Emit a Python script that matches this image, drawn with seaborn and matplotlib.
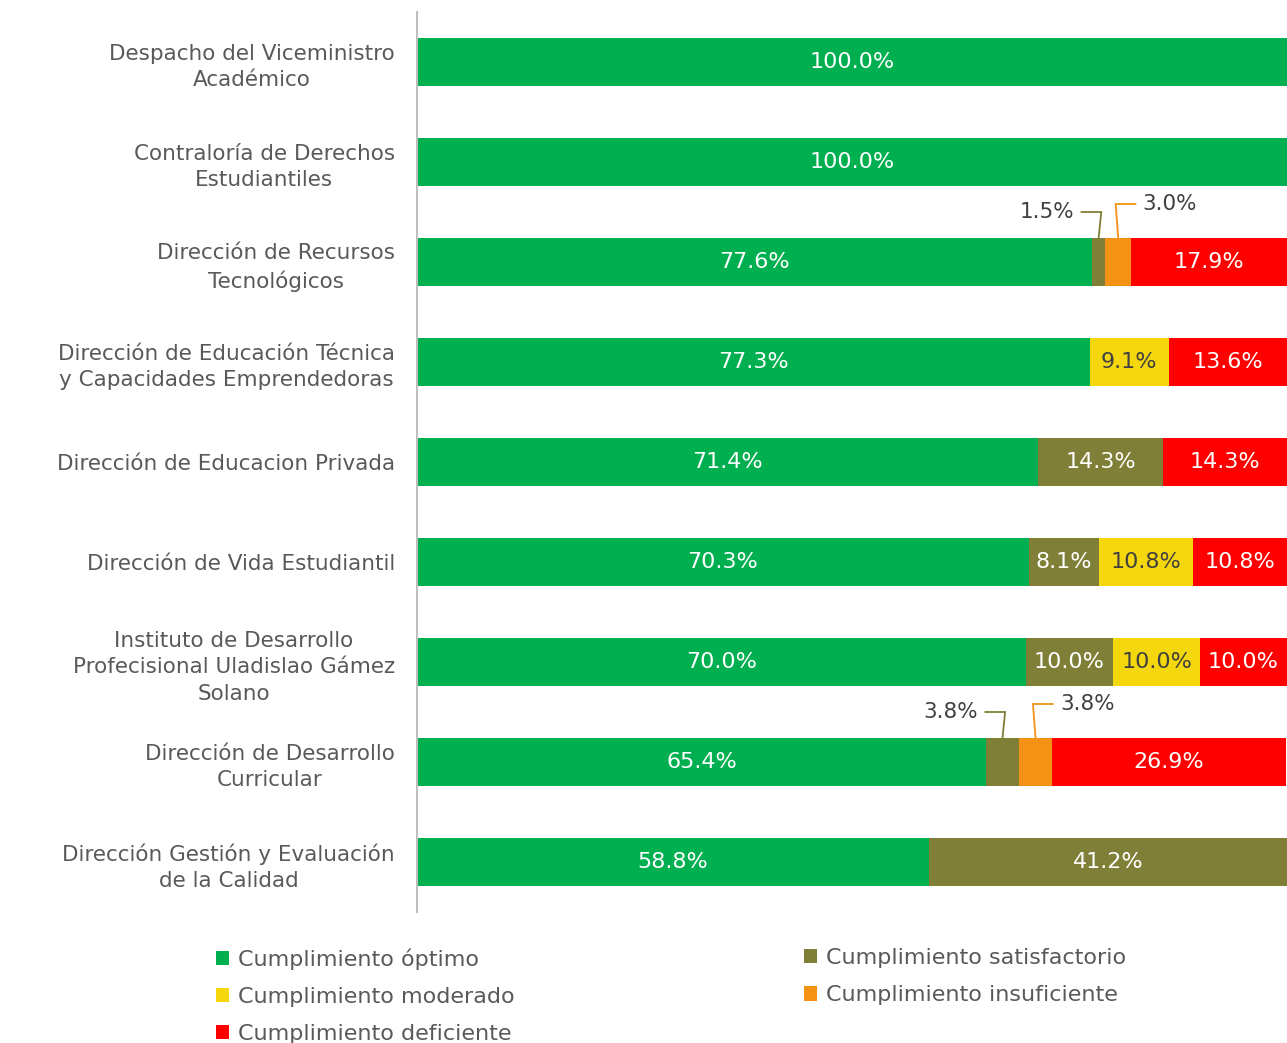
'''
    plot.py

    Description: Stacked horizontal bar chart of compliance levels by
        dependency, drawn with seaborn and saved as out.png.
'''

import pandas as pd
import matplotlib.pyplot as plt
from matplotlib.patches import Patch
import seaborn as sns

################################################################################

categories = [
    'Despacho del Viceministro\nAcadémico',
    'Contraloría de Derechos\nEstudiantiles',
    'Dirección de Recursos\nTecnológicos',
    'Dirección de Educación Técnica\ny Capacidades Emprendedoras',
    'Dirección de Educacion Privada',
    'Dirección de Vida Estudiantil',
    'Instituto de Desarrollo\nProfecisional Uladislao Gámez\nSolano',
    'Dirección de Desarrollo\nCurricular',
    'Dirección Gestión y Evaluación\nde la Calidad',
]

optimo = [100.0, 100.0, 77.6, 77.3, 71.4, 70.3, 70.0, 65.4, 58.8]
satisfactorio = [0.0, 0.0, 1.5, 0.0, 14.3, 8.1, 10.0, 3.8, 41.2]
moderado = [0.0, 0.0, 0.0, 9.1, 0.0, 10.8, 10.0, 0.0, 0.0]
insuficiente = [0.0, 0.0, 3.0, 0.0, 0.0, 0.0, 0.0, 3.8, 0.0]
deficiente = [0.0, 0.0, 17.9, 13.6, 14.3, 10.8, 10.0, 26.9, 0.0]

series_names = [
    'Cumplimiento óptimo',
    'Cumplimiento satisfactorio',
    'Cumplimiento moderado',
    'Cumplimiento insuficiente',
    'Cumplimiento deficiente',
]

################################################################################

colors = ['#00B050', '#7F7F37', '#F5D70E', '#F39214', '#FF0000']
text_on_bar = ['white', 'white', '#404040', 'white', 'white']
label_gray = '#595959'
dark_gray = '#404040'

# small segments get a callout instead of an inner label
callout_side = {1: -1, 3: 1}
callout_rise = {1: 0.5, 3: 0.58}

sns.set_theme(style = 'white')
plt.rcParams['font.family'] = ['DejaVu Sans']

df = pd.DataFrame(
    [optimo, satisfactorio, moderado, insuficiente, deficiente],
    index = series_names,
    columns = categories,
).T
cumulative = df.cumsum(axis = 1)
starts = cumulative - df

fig = plt.figure(figsize = (12.87, 10.43), dpi = 100)
ax = fig.add_axes([417 / 1287, 1 - 912 / 1043, 870 / 1287, 900 / 1043])

# Draw the totals from the last series back to the first so that each
# bar covers the one before it.
for index in reversed(range(len(series_names))):
    name = series_names[index]
    sns.barplot(
        x = cumulative[name].values,
        y = categories,
        order = categories,
        orient = 'h',
        color = colors[index],
        saturation = 1,
        width = 0.48,
        errorbar = None,
        linewidth = 0,
        ax = ax,
    )

ax.set_xlim(0, 100)
ax.set_ylim(len(categories) - 0.5, -0.5)
ax.set_xticks([])
ax.set_xlabel('')
ax.set_ylabel('')

for label in ax.get_yticklabels():
    label.set_multialignment('center')
    label.set_color(label_gray)
    label.set_fontsize(15.5)
    label.set_linespacing(1.4)
ax.tick_params(axis = 'y', length = 0, pad = 16)

for side in ['top', 'right', 'bottom']:
    ax.spines[side].set_visible(False)
ax.spines['left'].set_color('#BFBFBF')
ax.spines['left'].set_linewidth(1.5)

# Labels on the bars and callouts for the small segments.
for row, category in enumerate(categories):
    for index, name in enumerate(series_names):
        value = df.loc[category, name]
        if value <= 0:
            continue
        middle = starts.loc[category, name] + value / 2
        text = f'{value:.1f}%'
        if value < 5:
            side = callout_side[index]
            top = row - 0.24
            level = row - callout_rise[index]
            end = middle + side * 2.0
            ax.plot(
                [middle, middle - side * 0.3, end],
                [top, level, level],
                color = colors[index],
                linewidth = 1.3,
                solid_joinstyle = 'miter',
                clip_on = False,
            )
            ax.text(
                end + side * 0.8, level, text,
                ha = 'left' if side > 0 else 'right',
                va = 'center',
                color = dark_gray,
                fontsize = 15.5,
            )
        else:
            ax.text(
                middle, row, text,
                ha = 'center',
                va = 'center',
                color = text_on_bar[index],
                fontsize = 16,
            )

# Two legends, one per column, so the columns sit where the original has them.
handles = [Patch(facecolor = c, edgecolor = 'none') for c in colors]
columns = [[0, 2, 4], [1, 3]]
lefts = [216 / 1287, 804 / 1287]
for column, left in zip(columns, lefts):
    legend = fig.legend(
        [handles[i] for i in column],
        [series_names[i] for i in column],
        loc = 'upper left',
        bbox_to_anchor = (left, 1 - 948 / 1043),
        frameon = False,
        fontsize = 16,
        handlelength = 0.6,
        handleheight = 0.6,
        handletextpad = 0.4,
        labelspacing = 0.78,
        borderpad = 0,
        borderaxespad = 0,
    )
    for text in legend.get_texts():
        text.set_color(label_gray)

fig.savefig('out.png', dpi = 100)
